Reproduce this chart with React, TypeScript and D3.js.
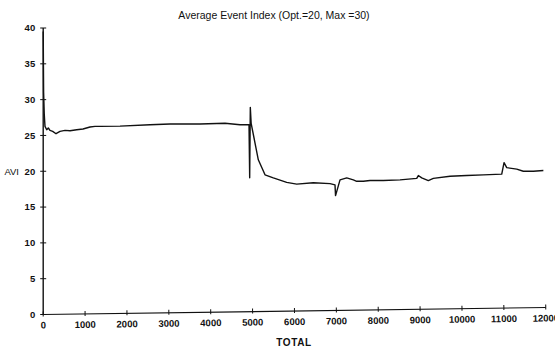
import * as d3 from "d3";

// Average Event Index vs TOTAL

const TOTAL = [
  0, 10, 25, 35, 43, 84, 122, 162, 227, 306, 401, 521, 640, 800, 950, 1117,
  1237, 1356, 1834, 2550, 3028, 3744, 4341, 4699, 4914, 4930, 4945, 4965, 5136,
  5296, 5494, 5814, 6053, 6449, 6848, 6967, 6980, 7087, 7247, 7404, 7486, 7643,
  7803, 8121, 8520, 8918, 8957, 9038, 9195, 9315, 9714, 10112, 10509, 10948,
  11003, 11067, 11306, 11464, 11703, 11942,
];

const AVI = [
  39.5, 31, 28, 27, 26.26, 25.8, 26.04, 25.7, 25.56, 25.24, 25.56, 25.7, 25.66,
  25.8, 25.9, 26.18, 26.26, 26.26, 26.3, 26.5, 26.6, 26.6, 26.7, 26.5, 26.5,
  19.1, 28.9, 26.7, 21.6, 19.5, 19.07, 18.45, 18.2, 18.4, 18.27, 18.1, 16.6,
  18.8, 19.07, 18.8, 18.6, 18.6, 18.7, 18.7, 18.8, 19.0, 19.4, 19.07, 18.7,
  19.0, 19.3, 19.4, 19.5, 19.6, 21.2, 20.5, 20.3, 20.0, 20.0, 20.1,
];

const X_TICKS = [0, 1000, 2000, 3000, 4000, 5000, 6000, 7000, 8000, 9000, 10000, 11000, 12000];
const Y_TICKS = [0, 5, 10, 15, 20, 25, 30, 35, 40];

const TITLE = "Average Event Index (Opt.=20, Max =30)";
const X_LABEL = "TOTAL";
const Y_LABEL = "AVI";

const W = 555;
const H = 348;
const FONT = "'Liberation Sans', Arial, sans-serif";
const INK = "#111";
const AXIS_TILT = -0.8; // the scan's x axis rises slightly to the right

export default function App() {
  const x = d3.scaleLinear().domain([0, 12000]).range([43.2, 545.8]);
  const y = d3.scaleLinear().domain([0, 40]).range([314.5, 28]);

  const pts = TOTAL.map((t, i) => [t, AVI[i]] as [number, number]);
  const line = d3
    .line<[number, number]>()
    .x((d) => x(d[0]))
    .y((d) => y(d[1]));

  const x0 = x(0);
  const y0 = y(0);

  return (
    <svg
      width={W}
      height={H}
      style={{ position: "absolute", left: 0, top: 0, background: "#fff" }}
    >
      {/* title */}
      <text
        x={274}
        y={18.5}
        textAnchor="middle"
        fontSize={10.5}
        fontFamily={FONT}
        fill={INK}
      >
        {TITLE}
      </text>

      {/* y axis */}
      <line x1={x0} x2={x0} y1={y(40)} y2={y0} stroke={INK} strokeWidth={1.4} />
      {Y_TICKS.map((t) => (
        <g key={`y${t}`}>
          <line x1={x0 - 3} x2={x0 + 3} y1={y(t)} y2={y(t)} stroke={INK} strokeWidth={1} />
          <text
            x={x0 - 8}
            y={y(t)}
            dy="0.35em"
            textAnchor="end"
            fontSize={9.5}
            fontWeight="bold"
            fontFamily={FONT}
            fill={INK}
          >
            {t}
          </text>
        </g>
      ))}
      <text
        x={19}
        y={y(20)}
        dy="0.35em"
        textAnchor="end"
        fontSize={9.5}
        fontFamily={FONT}
        fill={INK}
      >
        {Y_LABEL}
      </text>

      {/* x axis */}
      <g transform={`rotate(${AXIS_TILT},${x0},${y0})`}>
        <line x1={x0} x2={x(12000)} y1={y0} y2={y0} stroke={INK} strokeWidth={1.2} />
        {X_TICKS.map((t) => (
          <g key={`x${t}`}>
            <line x1={x(t)} x2={x(t)} y1={y0 - 3} y2={y0 + 2} stroke={INK} strokeWidth={1} />
            <text
              x={x(t)}
              y={y0 + 14}
              textAnchor="middle"
              fontSize={9.5}
              fontWeight="bold"
              fontFamily={FONT}
              fill={INK}
            >
              {t}
            </text>
          </g>
        ))}
      </g>
      <text
        x={294}
        y={345.5}
        textAnchor="middle"
        fontSize={10}
        fontWeight="bold"
        letterSpacing={0.6}
        fontFamily={FONT}
        fill={INK}
      >
        {X_LABEL}
      </text>

      {/* data */}
      <path
        d={line(pts) ?? ""}
        fill="none"
        stroke={INK}
        strokeWidth={1.4}
        strokeLinejoin="round"
      />
    </svg>
  );
}
